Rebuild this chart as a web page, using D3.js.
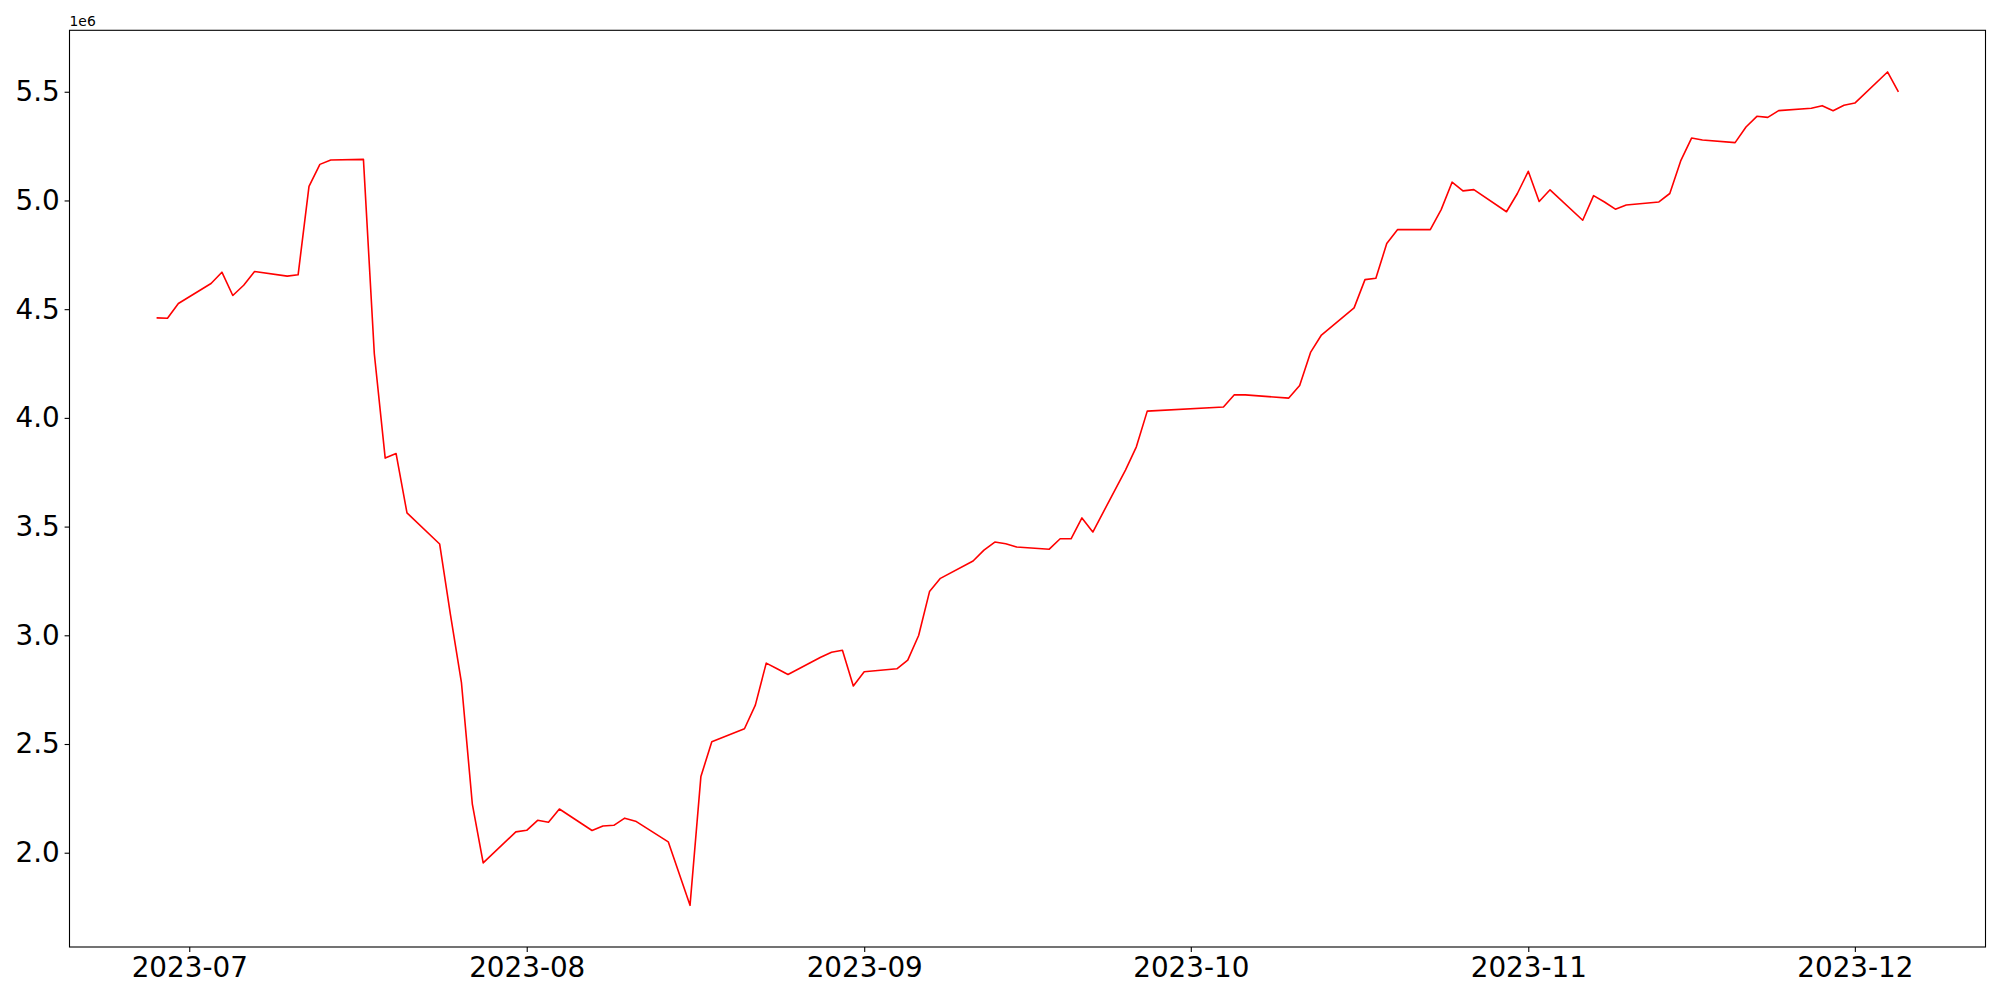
<!DOCTYPE html>
<html>
<head>
<meta charset="utf-8">
<script src="https://cdn.jsdelivr.net/npm/d3@7"></script>
<style>
  html, body { margin: 0; padding: 0; background: #fff; }
  svg { display: block; font-family: "DejaVu Sans", sans-serif; }
</style>
</head>
<body>
<svg id="chart" width="2000" height="1000"></svg>
<script>
// ---- data ----
const dates = [
  "2023-06-28","2023-06-29","2023-06-30",
  "2023-07-03","2023-07-04","2023-07-05","2023-07-06","2023-07-07",
  "2023-07-10","2023-07-11","2023-07-12","2023-07-13","2023-07-14",
  "2023-07-17","2023-07-18","2023-07-19","2023-07-20","2023-07-21",
  "2023-07-24","2023-07-25","2023-07-26","2023-07-27","2023-07-28",
  "2023-07-31","2023-08-01","2023-08-02","2023-08-03","2023-08-04",
  "2023-08-07","2023-08-08","2023-08-09","2023-08-10","2023-08-11",
  "2023-08-14","2023-08-16","2023-08-17","2023-08-18",
  "2023-08-21","2023-08-22","2023-08-23","2023-08-24","2023-08-25",
  "2023-08-28","2023-08-29","2023-08-30","2023-08-31","2023-09-01",
  "2023-09-04","2023-09-05","2023-09-06","2023-09-07","2023-09-08",
  "2023-09-11","2023-09-12","2023-09-13","2023-09-14","2023-09-15",
  "2023-09-18","2023-09-19","2023-09-20","2023-09-21","2023-09-22",
  "2023-09-25","2023-09-26","2023-09-27",
  "2023-10-04","2023-10-05","2023-10-06",
  "2023-10-10","2023-10-11","2023-10-12","2023-10-13",
  "2023-10-16","2023-10-17","2023-10-18","2023-10-19","2023-10-20",
  "2023-10-23","2023-10-24","2023-10-25","2023-10-26","2023-10-27",
  "2023-10-30","2023-10-31","2023-11-01","2023-11-02","2023-11-03",
  "2023-11-06","2023-11-07","2023-11-08","2023-11-09","2023-11-10",
  "2023-11-13","2023-11-14","2023-11-15","2023-11-16","2023-11-17",
  "2023-11-20","2023-11-21","2023-11-22","2023-11-23","2023-11-24",
  "2023-11-27","2023-11-28","2023-11-29","2023-11-30","2023-12-01",
  "2023-12-04","2023-12-05"
];
const values = [
  4460000, 4458000, 4526000,
  4618000, 4670000, 4563000, 4610000, 4673000,
  4652000, 4658000, 5065000, 5166000, 5186000,
  5189000, 4295000, 3815000, 3836000, 3563000,
  3420000, 3093000, 2784000, 2225000, 1953000,
  2096000, 2103000, 2149000, 2140000, 2201000,
  2102000, 2123000, 2126000, 2159000, 2145000,
  2050000, 1758000, 2351000, 2510000,
  2570000, 2679000, 2872000, 2846000, 2820000,
  2899000, 2922000, 2931000, 2767000, 2832000,
  2846000, 2886000, 2999000, 3201000, 3262000,
  3342000, 3392000, 3429000, 3421000, 3406000,
  3396000, 3444000, 3444000, 3540000, 3475000,
  3760000, 3867000, 4031000,
  4050000, 4106000, 4106000,
  4091000, 4149000, 4301000, 4381000,
  4506000, 4636000, 4642000, 4802000, 4866000,
  4866000, 4958000, 5084000, 5044000, 5050000,
  4948000, 5032000, 5134000, 4995000, 5049000,
  4909000, 5022000, 4993000, 4960000, 4979000,
  4993000, 5032000, 5182000, 5287000, 5278000,
  5266000, 5338000, 5387000, 5382000, 5413000,
  5424000, 5436000, 5413000, 5438000, 5448000,
  5591000, 5499000
];
const yTickValues = [2000000, 2500000, 3000000, 3500000, 4000000, 4500000, 5000000, 5500000];
const offsetLabel = "1e6";

// ---- layout ----
const plot = { left: 69.5, right: 1985.5, top: 30.3, bottom: 947 };
const fontSize = 27.8;
const lineColor = "#ff0000";

const parse = d3.utcParse("%Y-%m-%d");
const data = dates.map((d, i) => ({ date: parse(d), value: values[i] }));

const svg = d3.select("#chart");

// matplotlib-like 5% margins
const [t0, t1] = d3.extent(data, d => d.date);
const tPad = (t1 - t0) * 0.05;
const [v0, v1] = d3.extent(data, d => d.value);
const vPad = (v1 - v0) * 0.05;

const x = d3.scaleUtc()
  .domain([new Date(+t0 - tPad), new Date(+t1 + tPad)])
  .range([plot.left, plot.right]);
const y = d3.scaleLinear()
  .domain([v0 - vPad, v1 + vPad])
  .range([plot.bottom, plot.top]);

const line = d3.line()
  .x(d => x(d.date))
  .y(d => y(d.value));

svg.append("path")
  .datum(data)
  .attr("fill", "none")
  .attr("stroke", lineColor)
  .attr("stroke-width", 1.6)
  .attr("stroke-linejoin", "round")
  .attr("d", line);

const tickLen = 4.9, pad = 4.9;
const xAxis = d3.axisBottom(x)
  .ticks(d3.utcMonth.every(1))
  .tickFormat(d3.utcFormat("%Y-%m"))
  .tickSizeInner(tickLen).tickSizeOuter(0).tickPadding(pad);
const yAxis = d3.axisLeft(y)
  .tickValues(yTickValues)
  .tickFormat(v => (v / 1e6).toFixed(1))
  .tickSizeInner(tickLen).tickSizeOuter(0).tickPadding(pad);

const gx = svg.append("g")
  .attr("transform", `translate(0,${plot.bottom})`)
  .call(xAxis);
const gy = svg.append("g")
  .attr("transform", `translate(${plot.left},0)`)
  .call(yAxis);

[gx, gy].forEach(g => {
  g.select(".domain").remove();
  g.selectAll(".tick line").attr("stroke", "#000").attr("stroke-width", 1.1);
  g.selectAll(".tick text")
    .attr("fill", "#000")
    .style("font-family", '"DejaVu Sans", sans-serif')
    .style("font-size", fontSize + "px");
});

svg.append("rect")
  .attr("x", plot.left).attr("y", plot.top)
  .attr("width", plot.right - plot.left)
  .attr("height", plot.bottom - plot.top)
  .attr("fill", "none")
  .attr("stroke", "#000")
  .attr("stroke-width", 1.1);

svg.append("text")
  .attr("x", plot.left)
  .attr("y", plot.top - 4)
  .attr("fill", "#000")
  .style("font-family", '"DejaVu Sans", sans-serif')
  .style("font-size", "13.9px")
  .text(offsetLabel);
</script>
</body>
</html>
